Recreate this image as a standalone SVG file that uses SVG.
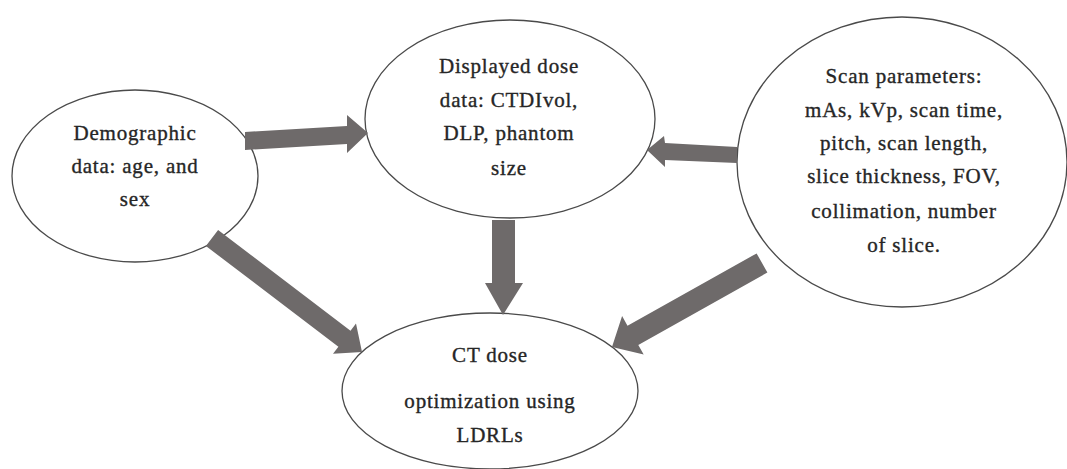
<svg xmlns="http://www.w3.org/2000/svg" width="1067" height="469" viewBox="0 0 1067 469">
<style>
.node ellipse{fill:#ffffff;stroke:#4a4a4a;stroke-width:1.3}
.node text{font-family:"Liberation Serif","Times New Roman",serif;font-size:21px;letter-spacing:0.8px;fill:#262626;stroke:#262626;stroke-width:0.35;text-anchor:middle}
.conn polygon{fill:#6e6a6a;stroke:none}
</style>
<rect width="1067" height="469" fill="#ffffff"/>
<g id="n-demographic" class="node">
<ellipse cx="135" cy="176" rx="123" ry="86"/>
<text x="135" y="140">Demographic</text>
<text x="135" y="173">data: age, and</text>
<text x="135" y="206">sex</text>
</g>
<g id="n-displayed" class="node">
<ellipse cx="510" cy="119" rx="145" ry="99"/>
<text x="509" y="73">Displayed dose</text>
<text x="509" y="107">data: CTDIvol,</text>
<text x="509" y="140">DLP, phantom</text>
<text x="509" y="175">size</text>
</g>
<g id="n-scan" class="node">
<ellipse cx="902" cy="162" rx="165" ry="145"/>
<text x="904" y="83">Scan parameters:</text>
<text x="904" y="117">mAs, kVp, scan time,</text>
<text x="904" y="150">pitch, scan length,</text>
<text x="904" y="183">slice thickness, FOV,</text>
<text x="904" y="218">collimation, number</text>
<text x="904" y="252">of slice.</text>
</g>
<g id="n-ct" class="node">
<ellipse cx="490" cy="391" rx="148" ry="78"/>
<text x="490" y="362">CT dose</text>
<text x="490" y="408">optimization using</text>
<text x="490" y="442">LDRLs</text>
</g>
<g id="connectors" class="conn">
<polygon points="245,132 347,126 347,115 368,133 347,153 347,144 245,150"/>
<polygon points="737,147 665,143 664,136 647,150 665,167 665,160 737,163"/>
<polygon points="492,220 515,220 515,283 523,283 503,315 485,283 492,283"/>
<polygon points="218.1,230 350.5,330.7 356,323.6 362,352 333,353.8 338.4,346.7 205.9,246"/>
<polygon points="756.6,253.4 627.5,325.7 622.1,316.1 612,347 643.7,354.5 638.3,344.9 767.4,272.6"/>
</g>
</svg>
